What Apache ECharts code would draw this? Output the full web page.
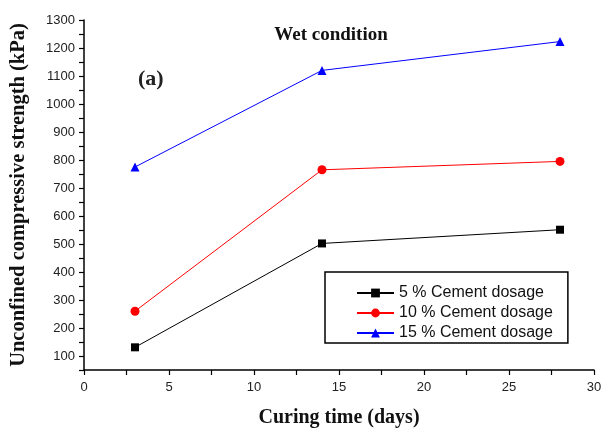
<!DOCTYPE html>
<html><head><meta charset="utf-8">
<script src="https://cdn.jsdelivr.net/npm/echarts@6/dist/echarts.min.js"></script>
<style>html,body{margin:0;padding:0;background:#fff}#c{width:612px;height:432px}</style>
</head><body><div id="c"></div>
<script>
const days = [3, 14, 28];
const cement5 = [131, 502, 551];
const cement10 = [260, 765, 795];
const cement15 = [775, 1120, 1223];
const seriesNames = ['5 % Cement dosage', '10 % Cement dosage', '15 % Cement dosage'];

const chart = echarts.init(document.getElementById('c'));
const serif = '"Liberation Serif", "DejaVu Serif", serif';
const sans = '"Liberation Sans", Arial, sans-serif';
function mk(name, vals, color, symbol, size) {
  return {
    name: name, type: 'line',
    data: days.map((d, i) => [d, vals[i]]),
    symbol: symbol, symbolSize: size,
    lineStyle: {color: color, width: 1},
    itemStyle: {color: color},
    animation: false
  };
}
chart.setOption({
  animation: false,
  grid: {left: 84, right: 18, top: 20, bottom: 62, outerBoundsMode: 'none', containLabel: false},
  title: [
    {text: 'Wet condition', left: 326, top: 21, textAlign: 'center',
     textStyle: {fontFamily: serif, fontWeight: 'bold', fontSize: 19, color: '#111'}},
    {text: '(a)', left: 133, top: 63,
     textStyle: {fontFamily: serif, fontWeight: 'bold', fontSize: 22, color: '#222'}}
  ],
  legend: {
    orient: 'vertical', left: 325, top: 272, align: 'left',
    padding: [13, 15, 2, 31], itemGap: 4, itemWidth: 37, itemHeight: 11,
    borderColor: '#000', borderWidth: 1.5, borderRadius: 0,
    textStyle: {fontFamily: sans, fontSize: 16, color: '#111'},
    data: seriesNames
  },
  xAxis: {
    type: 'value', min: 0, max: 30, interval: 2.5,
    name: 'Curing time (days)', nameLocation: 'middle', nameGap: 38,
    nameTextStyle: {fontFamily: serif, fontWeight: 'bold', fontSize: 20, color: '#111'},
    axisLine: {lineStyle: {color: '#000', width: 1.5}},
    axisTick: {length: 5, lineStyle: {color: '#000', width: 1.2}},
    splitLine: {show: false},
    axisLabel: {fontFamily: sans, fontSize: 13, color: '#222', margin: 11,
      formatter: v => (v % 5 === 0 ? String(v) : '')}
  },
  yAxis: {
    type: 'value', min: 50, max: 1300, interval: 50,
    name: 'Unconfined compressive strength (kPa)', nameLocation: 'middle', nameGap: 55,
    nameTextStyle: {fontFamily: serif, fontWeight: 'bold', fontSize: 20.5, color: '#111'},
    axisLine: {show: true, lineStyle: {color: '#000', width: 1.5}},
    axisTick: {length: 5, lineStyle: {color: '#000', width: 1.2}},
    splitLine: {show: false},
    axisLabel: {fontFamily: sans, fontSize: 13, color: '#222', margin: 9,
      formatter: v => (v % 100 === 0 ? String(v) : '')}
  },
  series: [
    mk(seriesNames[0], cement5, '#000000', 'rect', 8),
    mk(seriesNames[1], cement10, '#ff0000', 'circle', 9),
    mk(seriesNames[2], cement15, '#0000ff', 'triangle', 9)
  ]
});
</script></body></html>
